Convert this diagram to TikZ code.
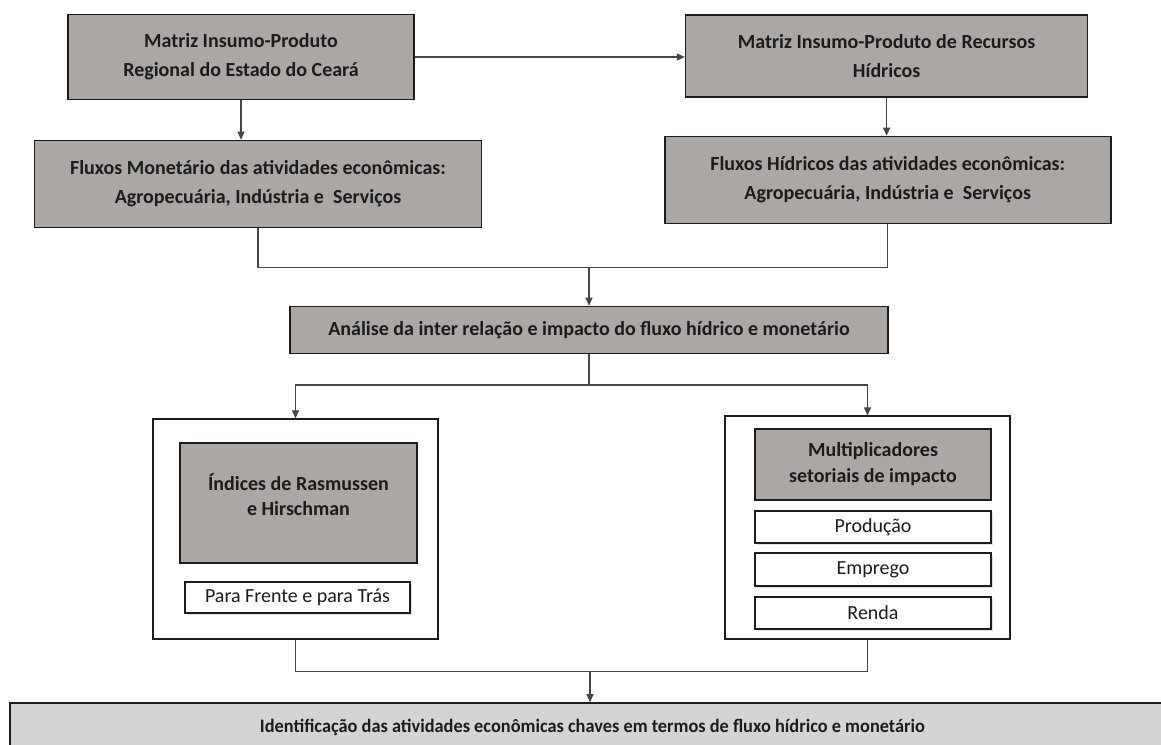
\documentclass[tikz,border=0pt]{standalone}
\usepackage{fontspec}
\setmainfont{Carlito}
\usetikzlibrary{arrows.meta,shadows}
\definecolor{boxgray}{RGB}{170,167,165}
\definecolor{lightbg}{RGB}{214,212,211}
\definecolor{ink}{RGB}{28,28,28}
\definecolor{linec}{RGB}{70,70,70}
\begin{document}
\begin{tikzpicture}[x=1pt,y=-1pt,
  graybox/.style={draw=ink, line width=1.6pt, fill=boxgray, text=ink,
    font=\fontsize{20}{29}\selectfont\bfseries, align=center, inner sep=0pt},
  outerbox/.style={draw=ink, line width=1.3pt, fill=white, inner sep=0pt},
  whitebox/.style={draw=ink, line width=1.6pt, fill=white, text=ink,
    font=\fontsize{20}{24}\selectfont, align=center, inner sep=0pt,
    drop shadow={opacity=0.25, shadow xshift=2pt, shadow yshift=-2pt}},
  lightbox/.style={draw=ink, line width=1.6pt, fill=lightbg, text=ink, inner sep=0pt,
    font=\fontsize{19}{24}\selectfont\bfseries},
  conn/.style={draw=linec, line width=1.1pt},
  tip/.style={-{Triangle[length=8pt,width=7pt]}}
]
\useasboundingbox (0,0) rectangle (1161,744);
\clip (0,0) rectangle (1161,744);

% top row
\node[graybox, minimum width=346pt, minimum height=85pt] (A) at (241,57)
  {Matriz Insumo-Produto\\Regional do Estado do Ceará};
\node[graybox, minimum width=447pt, minimum height=87pt] (B) at (258,184)
  {Fluxos Monetário das atividades econômicas:\\Agropecuária, Indústria e\ \ Serviços};
\node[graybox, minimum width=402pt, minimum height=82pt] (C) at (886.6,56)
  {Matriz Insumo-Produto de Recursos\\Hídricos};
\node[graybox, minimum width=446pt, minimum height=87pt] (D) at (887.7,180)
  {Fluxos Hídricos das atividades econômicas:\\Agropecuária, Indústria e\ \ Serviços};

% analysis
\node[graybox, minimum width=598pt, minimum height=47pt] (E) at (589,330)
  {Análise da inter relação e impacto do fluxo hídrico e monetário};

% left group
\node[outerbox, minimum width=285pt, minimum height=220pt] (F) at (295.5,529) {};
\node[graybox, minimum width=237pt, minimum height=120pt] (G) at (298.5,503) {};
\node[text=ink, font=\fontsize{20}{25}\selectfont\bfseries, align=center, inner sep=0pt] (Gt) at (298.5,495)
  {Índices de Rasmussen\\e Hirschman};
\node[whitebox, minimum width=225pt, minimum height=31pt] (H) at (297.5,597.5) {Para Frente e para Trás};

% right group
\node[outerbox, minimum width=285pt, minimum height=223pt] (I) at (867.5,527.5) {};
\node[graybox, minimum width=236pt, minimum height=71pt, font=\fontsize{20}{26}\selectfont\bfseries] (J) at (873,464.5)
  {Multiplicadores\\setoriais de impacto};
\node[whitebox, minimum width=236pt, minimum height=32pt] (P) at (873,527) {Produção};
\node[whitebox, minimum width=236pt, minimum height=33pt] (Em) at (873,569.5) {Emprego};
\node[whitebox, minimum width=236pt, minimum height=32pt] (R) at (873,613) {Renda};

% bottom
\node[lightbox, minimum width=1165pt, minimum height=48pt] (K) at (592.5,727)
  {\resizebox{665pt}{\height}{Identificação das atividades econômicas chaves em termos de fluxo hídrico e monetário}};

% connectors
\draw[conn,tip] (A.east) -- (A.east -| C.west);
\draw[conn,tip] (A.south) -- (A.south |- B.north);
\draw[conn,tip] (C.south) -- (C.south |- D.north);
\draw[conn] (B.south) -- ++(0,39) -| (D.south);
\coordinate (m1) at (589,266.5);
\draw[conn,tip] (m1) -- (m1 |- E.north);
\coordinate (s1) at (589,385);
\draw[conn] (E.south) -- (s1);
\draw[conn,tip] (s1) -| (F.north);
\draw[conn,tip] (s1) -| (I.north);
\draw[conn] (F.south) -- ++(0,32) -| (I.south);
\coordinate (m2) at (590,671);
\draw[conn,tip] (m2) -- (m2 |- K.north);
\end{tikzpicture}
\end{document}
